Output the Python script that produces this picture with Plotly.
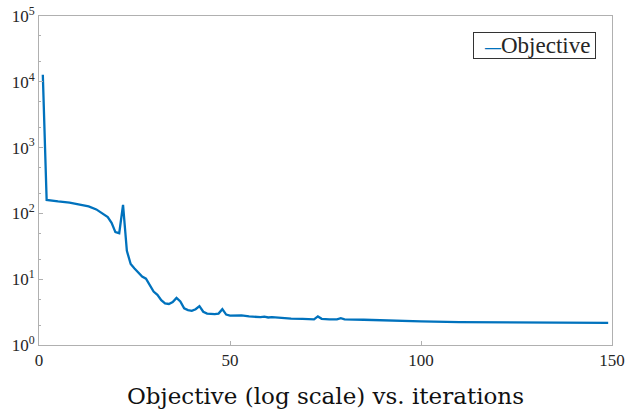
import plotly.graph_objects as go

iterations = [1, 2, 5, 8, 11, 13, 15, 17, 18, 19, 20, 21, 22, 23, 24, 25, 26, 27, 28, 29,
              30, 31, 32, 33, 34, 35, 36, 37, 38, 39, 40, 41, 42, 43, 44, 46, 47, 48, 49, 50,
              52, 53, 55, 58, 59, 60, 61, 63, 66, 69, 72, 73, 74, 76, 78, 79, 80, 85, 90, 100,
              110, 120, 135, 149]
objective = [12800, 160, 152, 146, 135, 128, 115, 98, 88, 72, 52, 50, 135, 27, 17, 14.5, 12.5, 11, 10.2, 8,
             6.5, 5.8, 4.8, 4.3, 4.2, 4.5, 5.2, 4.6, 3.6, 3.4, 3.3, 3.5, 3.9, 3.2, 3.0, 2.95, 3.0, 3.5, 2.9, 2.8,
             2.78, 2.82, 2.72, 2.65, 2.7, 2.62, 2.65, 2.58, 2.52, 2.5, 2.45, 2.72, 2.5, 2.45, 2.45, 2.55, 2.45, 2.42, 2.36, 2.28,
             2.22, 2.2, 2.18, 2.17]

series_name = "Objective"
x_ticks = [0, 50, 100, 150]
y_ticks = [1, 10, 100, 1000, 10000, 100000]
y_ticktext = ["10<sup>0</sup>", "10<sup>1</sup>", "10<sup>2</sup>", "10<sup>3</sup>", "10<sup>4</sup>", "10<sup>5</sup>"]
title_text = "Objective (log scale) vs. iterations"

serif = "Liberation Serif, Times New Roman, serif"
wide_serif = "DejaVu Serif, serif"
axis_col = "#b0b0b0"
text_col = "#262626"
line_col = "#0072BD"

fig = go.Figure()
fig.add_trace(go.Scatter(x=iterations, y=objective, mode="lines", name=series_name,
                         line=dict(color=line_col, width=2.3), showlegend=False))

# legend box (MATLAB style) drawn as a bordered text box
fig.add_annotation(
    x=0.972, y=0.95, xref="paper", yref="paper", xanchor="right", yanchor="top",
    text=(f"<span style='font-size:11px'>&nbsp;&nbsp;&nbsp;&nbsp;</span>"
          f"<span style='color:{line_col};font-size:16px'><b>—</b></span>{series_name}"
          f"<span style='font-size:10px'>&nbsp;&nbsp;</span>"),
    showarrow=False, font=dict(family=serif, size=23, color=text_col),
    bgcolor="white", bordercolor="#333333", borderwidth=1, borderpad=0,
)

fig.update_layout(
    width=628, height=413,
    margin=dict(l=39, r=16, t=16, b=68),
    paper_bgcolor="white", plot_bgcolor="white",
    font=dict(family=serif, color=text_col),
    showlegend=False,
)
fig.update_xaxes(
    range=[0, 150], tickvals=x_ticks, ticktext=[str(v) for v in x_ticks],
    showline=True, linecolor=axis_col, linewidth=1, mirror=True,
    ticks="inside", ticklen=4, tickcolor=axis_col,
    showgrid=False, zeroline=False, automargin=False,
    tickfont=dict(family=serif, size=17, color=text_col),
    title=dict(text=title_text, font=dict(family=wide_serif, size=23, color="#111111"), standoff=18),
)
fig.update_yaxes(
    type="log", range=[0, 5], tickvals=y_ticks, ticktext=y_ticktext,
    showline=True, linecolor=axis_col, linewidth=1, mirror=True,
    ticks="inside", ticklen=4, tickcolor=axis_col,
    minor=dict(ticks="inside", ticklen=2, tickcolor=axis_col, showgrid=False),
    showgrid=False, zeroline=False, automargin=False,
    tickfont=dict(family=serif, size=17, color=text_col),
)

fig.write_html("out.html", config={"displayModeBar": False},
               post_script="document.body.style.margin='0';document.body.style.padding='0';")
